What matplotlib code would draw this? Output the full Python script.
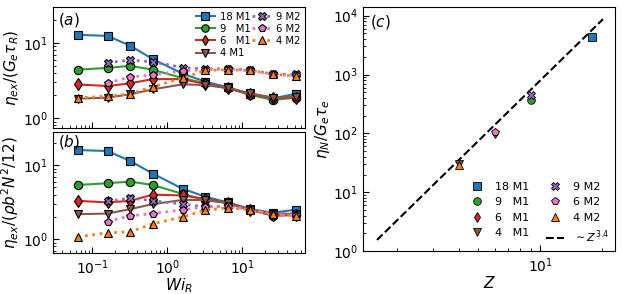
import numpy as np
import matplotlib
matplotlib.use("Agg")
import matplotlib.pyplot as plt
from matplotlib.ticker import NullFormatter, LogLocator

# ---------------- data ----------------
wi = [0.064, 0.16, 0.32, 0.64, 1.6, 3.2, 6.4, 12.8, 25.6, 51.2]
wi_m2 = wi[1:]

# panel (a): eta_ex/(Ge tauR)
a_18M1 = [12.8, 12.4, 9.2, 6.1, 3.9, 3.05, 2.57, 2.09, 1.83, 2.1]
a_9M1 = [4.4, 4.65, 4.95, 4.4, 3.4, 2.9, 2.5, 2.03, 1.74, 1.87]
a_6M1 = [2.8, 2.67, 2.9, 3.3, 3.3, 2.84, 2.5, 2.07, 1.87, 1.85]
a_4M1 = [1.81, 1.87, 2.07, 2.41, 2.81, 2.75, 2.5, 2.14, 1.87, 1.92]
a_9M2 = [5.45, 5.9, 5.6, 4.7, 4.5, 4.55, 4.35, 3.86, 3.8]
a_6M2 = [2.95, 3.5, 3.75, 4.25, 4.4, 4.5, 4.3, 3.8, 3.7]
a_4M2 = [1.85, 1.96, 2.09, 2.61, 3.4, 4.3, 4.4, 4.3, 3.86, 3.6]

# panel (b): eta_ex/(rho b^2 N^2/12)
b_18M1 = [16.0, 15.5, 11.4, 7.7, 4.8, 3.76, 3.14, 2.55, 2.29, 2.5]
b_9M1 = [5.4, 5.7, 6.0, 5.4, 4.1, 3.4, 3.08, 2.5, 2.07, 2.13]
b_6M1 = [3.3, 3.14, 3.3, 4.0, 3.9, 3.5, 3.1, 2.5, 2.1, 2.15]
b_4M1 = [2.18, 2.22, 2.55, 2.98, 3.39, 3.39, 3.08, 2.5, 2.22, 2.2]
b_9M2 = [3.24, 3.6, 3.31, 2.98, 2.74, 2.8, 2.55, 2.2, 2.2]
b_6M2 = [1.73, 2.07, 2.22, 2.5, 2.74, 2.8, 2.5, 2.1, 2.1]
b_4M2 = [1.08, 1.22, 1.26, 1.62, 2.0, 2.47, 2.67, 2.5, 2.2, 2.07]

# panel (c): eta_N/(Ge tau_e) vs Z
z_M1 = [18, 9, 6, 4]
c_M1 = [4300, 370, 100, 30]
z_M2 = [9, 6, 4]
c_M2 = [440, 105, 29]
fit_exp = 3.4
fit_pref = 0.313
fit_zrange = [1.6, 20.3]

labels_M1 = ["18 M1", "9   M1", "6   M1", "4 M1"]
labels_M1c = ["18 M1", "9   M1", "6   M1", "4   M1"]
labels_M2 = ["9 M2", "6 M2", "4 M2"]

col_M1 = ["C0", "C2", "C3", "C5"]
mk_M1 = ["s", "o", "d", "v"]
col_M2 = ["C4", "C6", "C1"]
mk_M2 = ["X", "p", "^"]

# ---------------- figure ----------------
plt.rcParams["font.family"] = ["DejaVu Sans"]
plt.rcParams["mathtext.fontset"] = "dejavusans"
fig = plt.figure(figsize=(6.23, 2.94), dpi=100)

axa = fig.add_axes([0.085, 0.565, 0.405, 0.411])
axb = fig.add_axes([0.085, 0.139, 0.405, 0.412])
axc = fig.add_axes([0.583, 0.146, 0.404, 0.830])

ms = 6

def plot_panel(ax, m1, m2):
    hs = []
    for y, c, m, lab in zip(m1, col_M1, mk_M1, labels_M1):
        h, = ax.plot(wi, y, color=c, marker=m, ms=ms, mec="k", mew=0.8,
                     lw=1.5, ls="-", label=lab, zorder=3)
        hs.append(h)
    for i, (y, c, m, lab) in enumerate(zip(m2, col_M2, mk_M2, labels_M2)):
        x = wi if len(y) == len(wi) else wi_m2
        h, = ax.plot(x, y, color=c, marker=m, ms=ms, mec="k", mew=0.8,
                     lw=2, ls=":", label=lab, zorder=3)
        hs.append(h)
    ax.set_xscale("log")
    ax.set_yscale("log")
    ax.set_xlim(0.030, 69)
    ax.tick_params(which="both", direction="in", labelsize=10)
    ax.tick_params(which="major", length=4)
    ax.tick_params(which="minor", length=2.5)
    ax.xaxis.set_minor_formatter(NullFormatter())
    ax.yaxis.set_minor_formatter(NullFormatter())
    return hs

hs = plot_panel(axa, [a_18M1, a_9M1, a_6M1, a_4M1], [a_9M2, a_6M2, a_4M2])
axa.set_ylim(0.74, 30)
axa.tick_params(axis="x", which="both", labelbottom=False)
axa.set_ylabel(r"$\eta_{ex}/(G_e\tau_R)$", fontsize=11, labelpad=1)
axa.text(0.02, 0.97, r"$(a)$", transform=axa.transAxes, fontsize=11,
         va="top", ha="left")
axa.legend(handles=hs, ncol=2, loc="upper right", frameon=False,
           fontsize=7.2, columnspacing=0.2, handlelength=1.9,
           handletextpad=0.5, labelspacing=0.22, borderpad=0.2,
           borderaxespad=0.25, markerscale=0.9)

plot_panel(axb, [b_18M1, b_9M1, b_6M1, b_4M1], [b_9M2, b_6M2, b_4M2])
axb.set_ylim(0.65, 28)
axb.set_xlabel(r"$Wi_R$", fontsize=11, labelpad=0)
axb.set_ylabel(r"$\eta_{ex}/(\rho b^2N^2/12)$", fontsize=11, labelpad=1)
axb.text(0.02, 0.99, r"$(b)$", transform=axb.transAxes, fontsize=11,
         va="top", ha="left")

# panel (c)
hc = []
for z, y, c, m, lab in zip(z_M1, c_M1, col_M1, mk_M1, labels_M1c):
    h, = axc.plot([z], [y], ls="none", marker=m, color=c, ms=5.5, mec="k",
                  mew=0.6, label=lab, zorder=3)
    hc.append(h)
for z, y, c, m, lab in zip(z_M2, c_M2, col_M2, mk_M2, labels_M2):
    h, = axc.plot([z], [y], ls="none", marker=m, color=c, ms=5.5, mec="k",
                  mew=0.6, label=lab, zorder=3)
    hc.append(h)
zf = np.geomspace(fit_zrange[0], fit_zrange[1], 50)
h, = axc.plot(zf, fit_pref * zf ** fit_exp, "k--", lw=1.5,
              label=r"$\sim Z^{3.4}$", zorder=2)
hc.append(h)
axc.set_xscale("log")
axc.set_yscale("log")
axc.set_xlim(1.37, 23.2)
axc.set_ylim(1, 1.4e4)
axc.xaxis.set_minor_formatter(NullFormatter())
axc.yaxis.set_minor_formatter(NullFormatter())
axc.yaxis.set_major_locator(LogLocator(base=10, numticks=10))
axc.tick_params(which="both", direction="in", labelsize=10)
axc.tick_params(which="major", length=4)
axc.tick_params(which="minor", length=2.5)
axc.set_xlabel(r"$Z$", fontsize=11, labelpad=0)
axc.set_ylabel(r"$\eta_N/G_e\tau_e$", fontsize=11, labelpad=1)
axc.text(0.025, 0.975, r"$(c)$", transform=axc.transAxes, fontsize=11,
         va="top", ha="left")
axc.legend(handles=hc, ncol=2, loc="lower right", frameon=False,
           fontsize=8, columnspacing=1.5, handlelength=1.6,
           handletextpad=0.8, labelspacing=0.5, borderaxespad=0.15)

fig.savefig("out.png", dpi=100)
